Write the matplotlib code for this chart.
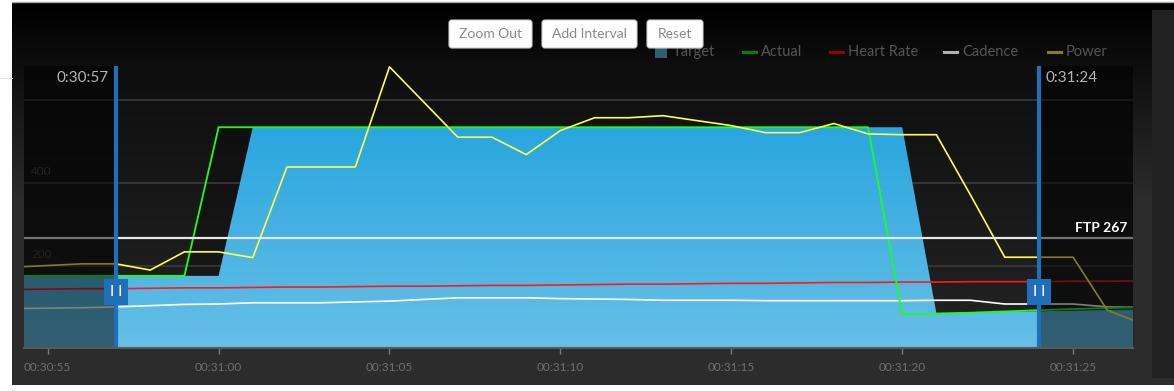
"""
Workout interval chart: target / actual / heart rate / cadence / power
for a selected interval (00:30:57 - 00:31:24), dark theme.
"""

import matplotlib
matplotlib.use("Agg")
import matplotlib.pyplot as plt
import numpy as np
from matplotlib.colors import LinearSegmentedColormap
from matplotlib.patches import FancyBboxPatch, Rectangle
from matplotlib.ticker import FuncFormatter

plt.rcParams["font.family"] = ["Lato", "DejaVu Sans"]

# --- data (seconds of the day, one sample per second) ---
times = np.arange(1854, 1888)  # 00:30:54 .. 00:31:27

target = [175, 175, 175, 175, 175, 175, 175,
          534, 534, 534, 534, 534, 534, 534, 534, 534, 534,
          534, 534, 534, 534, 534, 534, 534, 534, 534, 534,
          85, 86.5, 88, 89.5, 91, 92.5, 94]
actual = [175, 175, 175, 175, 175, 175,
          534, 534, 534, 534, 534, 534, 534, 534, 534, 534,
          534, 534, 534, 534, 534, 534, 534, 534, 534, 534,
          82, 84, 86, 89, 92, 95, 97, 99]
heart_rate = [142, 143, 144, 144, 145, 146, 146, 147, 148, 148, 149, 150,
              150, 151, 152, 152, 153, 154, 155, 155, 156, 157, 157, 158,
              159, 159, 160, 160, 161, 161, 161, 162, 162, 163]
cadence = [96, 97, 98, 100, 103, 106, 107, 110, 110, 110, 112, 114,
           118, 122, 122, 122, 120, 119, 118, 116, 116, 116, 115, 115,
           115, 115, 115, 116, 116, 107, 107, 107, 100, 99]
power = [196, 200, 204, 204, 189, 233, 233, 219, 438, 438, 438, 680,
         595, 510, 510, 468, 526, 557, 557, 562, 550, 538, 521, 521,
         543, 518, 516, 516, 370, 220, 220, 220, 92, 60]

ftp = 267
interval_start = 1857   # 0:30:57
interval_end = 1884     # 0:31:24
x_ticks = [1855, 1860, 1865, 1870, 1875, 1880, 1885]
y_labels = [200, 400]
grid_levels = [200, 400, 600]

legend_items = [("Target", "#2f5d73", "box"), ("Actual", "#008000", "line"),
                ("Heart Rate", "#990000", "line"), ("Cadence", "#b0b0b0", "line"),
                ("Power", "#808020", "line")]
buttons = ["Zoom Out", "Add Interval", "Reset"]


def hms(s):
    s = int(round(s))
    return f"{s // 3600:02d}:{(s // 60) % 60:02d}:{s % 60:02d}"


def short_hms(s):
    s = int(round(s))
    return f"{s // 3600}:{(s // 60) % 60:02d}:{s % 60:02d}"


W, H = 1174, 391
fig = plt.figure(figsize=(W / 100, H / 100), dpi=100, facecolor="white")

# --- page canvas in pixel coords (panel, buttons, legend) ---
cv = fig.add_axes([0, 0, 1, 1], zorder=0)
cv.set_xlim(0, W)
cv.set_ylim(H, 0)
cv.axis("off")

panel_cmap = LinearSegmentedColormap.from_list("panel", ["#000000", "#2b2b2b", "#2d2d2d"])
cv.imshow(np.linspace(0, 1, 256).reshape(-1, 1), cmap=panel_cmap, aspect="auto",
          extent=(12, W, 385, 3), origin="upper", zorder=0)
cv.add_patch(Rectangle((1152, 10), W - 1152, 368, facecolor="#212121", lw=0, zorder=1))
cv.plot([12, W], [2, 2], color="#a8a8a8", lw=1.0, zorder=2)
cv.plot([0, 12], [78, 78], color="#e4e4e4", lw=0.8, zorder=2)

# legend
leg_x = [655, 743, 830, 944, 1048]
for (label, color, kind), x in zip(legend_items, leg_x):
    if kind == "box":
        cv.add_patch(Rectangle((x, 46), 12, 12, facecolor=color, lw=0, zorder=3))
    else:
        cv.plot([x, x + 13], [52, 52], color=color, lw=2.2, zorder=3)
    cv.text(x + 18, 52, label, color="#555555", fontsize=10.5, va="center",
            ha="left", zorder=3)

# buttons (drawn over the legend, as in the app)
btn_boxes = [(449, 532), (542, 637), (647, 703)]
for label, (x0, x1) in zip(buttons, btn_boxes):
    cv.add_patch(FancyBboxPatch((x0 + 2, 22), x1 - x0 - 4, 24,
                                boxstyle="round,pad=2,rounding_size=3",
                                facecolor="white", edgecolor="#d0d0d0", lw=0.8, zorder=5))
    cv.text((x0 + x1) / 2, 34.5, label, color="#8a8a8a", fontsize=10,
            ha="center", va="center", zorder=6)

# --- main plot ---
top_px, bot_px = 66, 348.3
ax = fig.add_axes([24 / W, (H - bot_px) / H, 1109 / W, (bot_px - top_px) / H], zorder=1)
xmin, xmax = 1854.307, 1886.752
ymax = 682
ax.set_facecolor("none")

bg_cmap = LinearSegmentedColormap.from_list("bg", ["#242424", "#0e0e0e"])
ax.imshow(np.linspace(0, 1, 256).reshape(-1, 1), cmap=bg_cmap, aspect="auto",
          extent=(xmin, xmax, 0, ymax), origin="lower", zorder=0)

# actual as a faint dark area, then grid, then target gradient on top
ax.fill_between(times, 0, actual, color="black", alpha=0.18, lw=0, zorder=1)
for g in grid_levels:
    ax.axhline(g, color="#3a3a3a", lw=1.2, zorder=2)

tgt_poly = ax.fill_between(times, 0, target, color="none", lw=0, zorder=3)
tgt_cmap = LinearSegmentedColormap.from_list("tgt", ["#67bfe6", "#29a6df"])
tgt_img = ax.imshow(np.linspace(0, 1, 256).reshape(-1, 1), cmap=tgt_cmap, aspect="auto",
                    extent=(xmin, xmax, 0, max(target)), origin="lower", zorder=3)
tgt_img.set_clip_path(tgt_poly.get_paths()[0], ax.transData)

ax.plot(times, cadence, color="#ffffff", lw=1.2, zorder=4)
ax.plot(times, heart_rate, color="#ff1a1a", lw=1.2, zorder=4)
ax.plot(times, actual, color="#1cff1c", lw=1.3, zorder=4.5)
ax.plot(times, power, color="#ffff4a", lw=1.2, zorder=5)

ax.axhline(ftp, color="#e8e8e8", lw=1.6, zorder=5)
ax.annotate(f"FTP {ftp}", xy=(1, ftp), xycoords=ax.get_yaxis_transform(),
            xytext=(-6, 4), textcoords="offset pixels", ha="right", va="bottom",
            color="white", fontsize=10, fontweight="bold", zorder=9)

# y value labels sitting above gridlines
for v in y_labels:
    ax.annotate(str(v), xy=(0, v), xycoords=ax.get_yaxis_transform(),
                xytext=(7, 11), textcoords="offset pixels", ha="left", va="center",
                color="#454545", fontsize=8.5, zorder=2)

# dim everything outside the selected interval
ax.axvspan(xmin, interval_start, color="black", alpha=0.5, lw=0, zorder=6)
ax.axvspan(interval_end, xmax, color="black", alpha=0.5, lw=0, zorder=6)

handle_y = (bot_px - 292) / (bot_px - top_px) * ymax
for t, side in [(interval_start, -1), (interval_end, 1)]:
    ax.axvline(t, color="#1f70b8", lw=3, zorder=7)
    ax.text(t, handle_y, "I I", color="white", fontsize=11, ha="center", va="center",
            zorder=8, bbox=dict(boxstyle="square,pad=0.4", facecolor="#1f70b8",
                                edgecolor="none"))
    ax.annotate(short_hms(t), xy=(t, 1), xycoords=ax.get_xaxis_transform(),
                xytext=(7 * side, -12), textcoords="offset pixels",
                ha="left" if side > 0 else "right", va="center",
                color="#b4b4b4", fontsize=11, zorder=9)

ax.set_xlim(xmin, xmax)
ax.set_ylim(0, ymax)
ax.set_xticks(x_ticks)
ax.xaxis.set_major_formatter(FuncFormatter(lambda s, _: hms(s)))
ax.set_yticks([])
ax.tick_params(axis="x", colors="#7a7a7a", length=4, width=1, pad=6,
               labelsize=8.5, labelcolor="#707070")
for side in ["top", "left", "right"]:
    ax.spines[side].set_visible(False)
ax.spines["bottom"].set_color("#5a5a5a")
ax.spines["bottom"].set_linewidth(1.5)
ax.spines["bottom"].set_zorder(10)

fig.savefig("out.png", dpi=100, facecolor="white")
